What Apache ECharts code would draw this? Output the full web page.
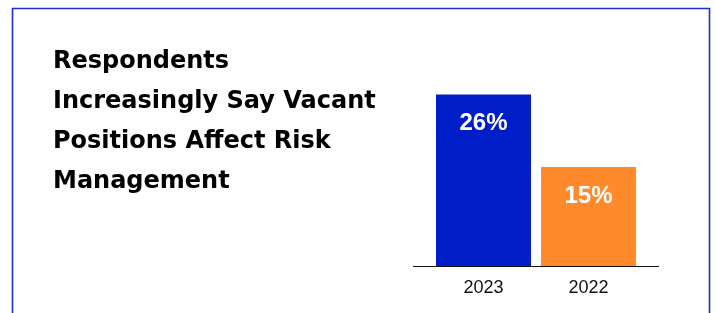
<!DOCTYPE html>
<html>
<head>
<meta charset="utf-8">
<script src="https://cdn.jsdelivr.net/npm/echarts@6/dist/echarts.min.js"></script>
<style>
  html, body { margin: 0; padding: 0; background: #fff; }
  #main { width: 715px; height: 313px; }
</style>
</head>
<body>
<div id="main"></div>
<script>
// data
const years = ['2023', '2022'];
const shares = [26, 15];
const barColors = ['#001ec8', '#ff8a2c'];
const titleText = 'Respondents\nIncreasingly Say Vacant\nPositions Affect Risk\nManagement';

const myChart = echarts.init(document.getElementById('main'));

const options = {
  animation: false,
  title: {
    text: titleText,
    left: 48,
    top: 37,
    textStyle: {
      fontFamily: 'DejaVu Sans',
      fontWeight: 'bold',
      fontSize: 24,
      lineHeight: 40,
      color: '#000'
    }
  },
  grid: { left: 431, width: 210, top: 68, bottom: 47 },
  xAxis: {
    type: 'category',
    data: years,
    axisLine: { show: false },
    axisTick: { show: false },
    axisLabel: {
      margin: 13,
      fontFamily: 'Liberation Sans',
      fontSize: 18,
      color: '#111'
    }
  },
  yAxis: {
    type: 'value',
    min: 0,
    max: 30,
    show: false,
    splitLine: { show: false }
  },
  series: [{
    type: 'bar',
    barWidth: 95,
    data: shares.map((v, i) => ({ value: v, itemStyle: { color: barColors[i] } })),
    label: {
      show: true,
      position: 'insideTop',
      distance: 17,
      formatter: '{c}%',
      fontFamily: 'Liberation Sans',
      fontWeight: 'bold',
      fontSize: 24,
      color: '#fff'
    }
  }],
  graphic: [
    {
      type: 'rect',
      shape: { x: 12.5, y: 8.5, width: 697, height: 400 },
      style: { fill: 'none', stroke: '#1a30d0', lineWidth: 1.6 },
      silent: true
    },
    {
      type: 'line',
      shape: { x1: 413, y1: 266.5, x2: 659, y2: 266.5 },
      style: { stroke: '#111', lineWidth: 1.2 },
      z: 10,
      silent: true
    }
  ]
};

myChart.setOption(options);
</script>
</body>
</html>
